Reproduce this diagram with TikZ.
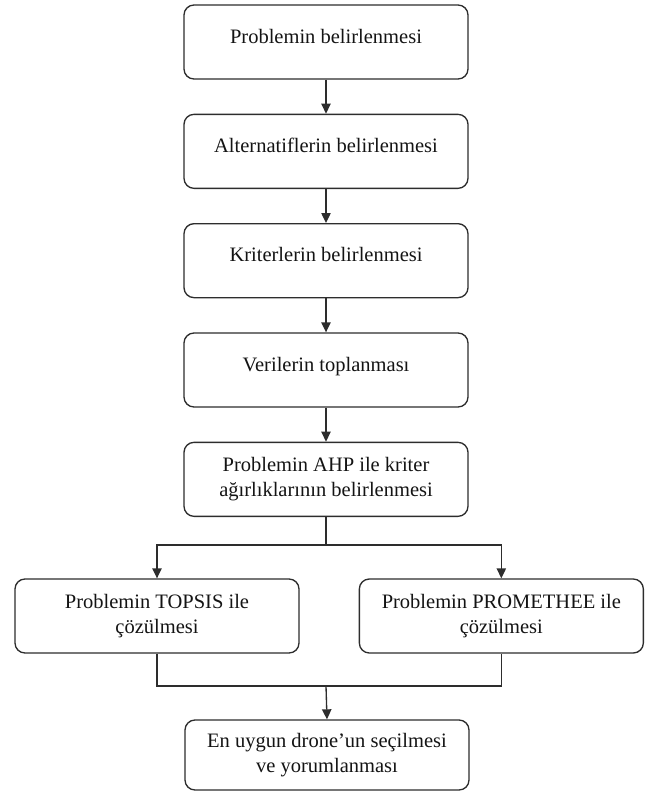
\documentclass[tikz,border=0pt]{standalone}
\usepackage{fontspec}
\setmainfont{Liberation Serif}
\usepackage{tikz}
\usetikzlibrary{positioning}
\usetikzlibrary{calc}
\usetikzlibrary{arrows.meta}
\definecolor{flowline}{RGB}{45,45,45}
\definecolor{flowtext}{RGB}{20,20,20}

\begin{document}
\begin{tikzpicture}[x=0.6pt, y=-0.6pt, node distance=20.4pt,
        every node/.style={align=center, font=\fontsize{12.3}{15}\selectfont, text=flowtext},
        stepbox/.style={draw=flowline, line width=0.8pt, rounded corners=6pt, minimum width=170.4pt, minimum height=44.4pt},
        oneline/.style={stepbox, text height=8.4pt, text depth=7.2pt},
        flowarrow/.style={draw=flowline, line width=0.8pt, -{Triangle[length=6pt, width=5.6pt]}}]

        \useasboundingbox (0,0) rectangle (652,792);

        % Main column
        \node[oneline] (problemBox) at (326,42) {Problemin belirlenmesi};
        \node[oneline, below=of problemBox] (altBox) {Alternatiflerin belirlenmesi};
        \node[oneline, below=of altBox] (criteriaBox) {Kriterlerin belirlenmesi};
        \node[oneline, below=of criteriaBox] (dataBox) {Verilerin toplanması};
        \node[stepbox, below=of dataBox] (ahpBox) {Problemin AHP ile kriter\\ağırlıklarının belirlenmesi};

        % Two methods
        \node[stepbox] (topsisBox) at (157,616) {Problemin TOPSIS ile\\çözülmesi};
        \node[stepbox, right=35.4pt of topsisBox] (prometheeBox) {Problemin PROMETHEE ile\\çözülmesi};

        % Result
        \node[stepbox, minimum height=42pt] (droneBox) at (327,755) {En uygun drone’un seçilmesi\\ve yorumlanması};

        \coordinate (split) at (ahpBox.south |- 0,545);
        \coordinate (merge) at (ahpBox.south |- 0,686);

        \draw[flowarrow] (problemBox) -- (altBox);
        \draw[flowarrow] (altBox) -- (criteriaBox);
        \draw[flowarrow] (criteriaBox) -- (dataBox);
        \draw[flowarrow] (dataBox) -- (ahpBox);
        \draw[draw=flowline, line width=0.8pt] (ahpBox.south) -- (split);
        \draw[flowarrow] (split) -| (topsisBox.north);
        \draw[flowarrow] (split) -| (prometheeBox.north);
        \draw[draw=flowline, line width=0.8pt] (topsisBox.south) |- (merge) -| (prometheeBox.south);
        \draw[flowarrow] (merge) -- (droneBox.north);

    \end{tikzpicture}
\end{document}
